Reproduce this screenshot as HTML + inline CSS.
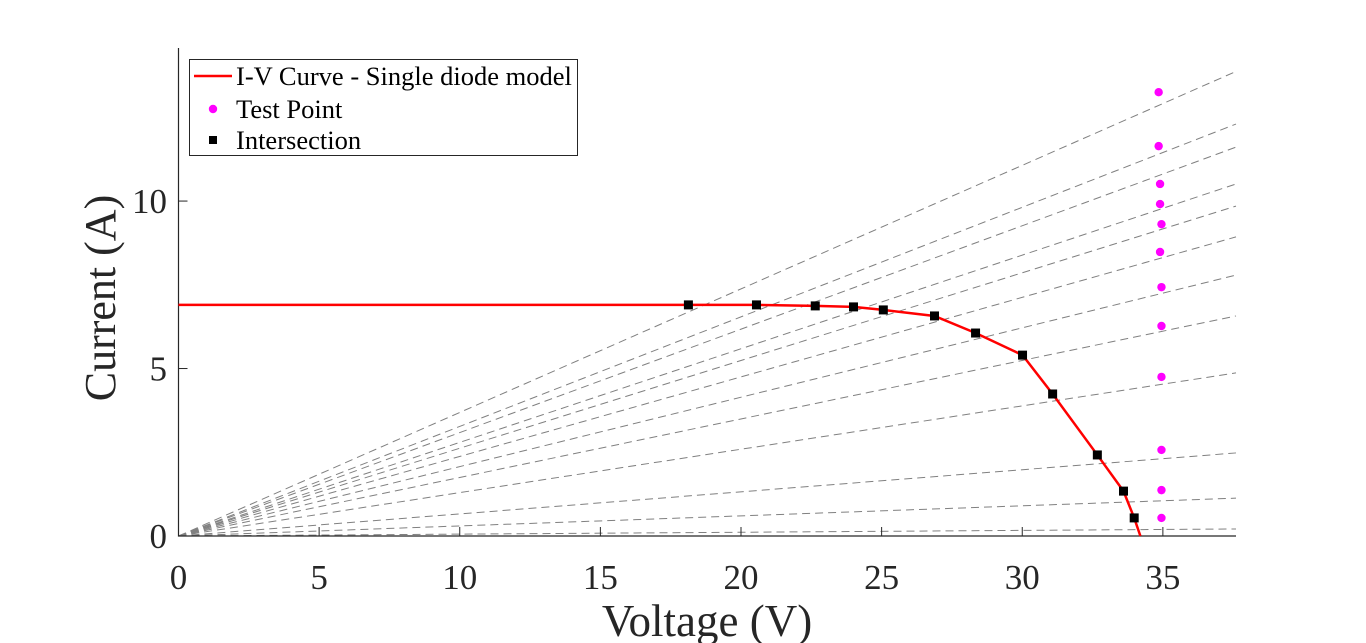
<!DOCTYPE html>
<html><head><meta charset="utf-8"><style>
html,body{margin:0;padding:0;background:#fff;}
svg{display:block;font-family:"Liberation Serif",serif;}
</style></head><body>
<svg id="chart" width="1366" height="643" viewBox="0 0 1366 643">
<g id="plot"></g>
</svg>
<script>
const xTicks=[0,5,10,15,20,25,30,35];
const yTicks=[0,5,10];
const loadLineEndCurrents=[13.87,12.30,11.61,10.51,9.85,8.93,7.79,6.57,4.87,2.48,1.13,0.21];
const interV=[18.13,20.55,22.64,24.0,25.06,26.88,28.34,30.01,31.08,32.67,33.60,33.98];
const interI=[6.90,6.90,6.87,6.84,6.75,6.57,6.06,5.40,4.24,2.42,1.34,0.54];
const curveV=[0,18.13,20.55,22.64,24.0,25.06,26.88,28.34,30.01,31.08,32.67,33.60,33.98,34.2];
const curveI=[6.9,6.90,6.90,6.87,6.84,6.75,6.57,6.06,5.40,4.24,2.42,1.34,0.54,0];
const testV=[34.85,34.85,34.9,34.9,34.95,34.9,34.95,34.95,34.95,34.95,34.95,34.95];
const testI=[13.25,11.64,10.51,9.91,9.31,8.48,7.43,6.27,4.75,2.57,1.37,0.54];

const NS="http://www.w3.org/2000/svg";
const X0=178.5,X1=1236,Y0=536,Y1=48,xMax=37.6,yMax=14.57;
const sx=v=>X0+v*(X1-X0)/xMax;
const sy=i=>Y0-i*(Y0-Y1)/yMax;
const g=document.getElementById('plot');
function mk(tag,attrs,parent){const e=document.createElementNS(NS,tag);for(const k in attrs)e.setAttribute(k,attrs[k]);(parent||g).appendChild(e);return e;}

loadLineEndCurrents.forEach((c,k)=>{
  const l=mk('line',{x1:sx(0),y1:sy(0),x2:sx(xMax),y2:sy(c),stroke:'#808080','stroke-width':1,'stroke-dasharray':'8,5'});
  
  
});
const ax=mk('path',{d:`M${X0},${Y1}V${Y0}H${X1}`,stroke:'#262626','stroke-width':1.2,fill:'none'});


xTicks.forEach(t=>{
  mk('line',{x1:sx(t),x2:sx(t),y1:Y0,y2:Y0-9,stroke:'#262626','stroke-width':1});
  const tx=mk('text',{x:sx(t),y:589,'text-anchor':'middle','font-size':35,fill:'#262626'});
  tx.textContent=t;
  
  
});
yTicks.forEach(t=>{
  mk('line',{x1:X0,x2:X0+9,y1:sy(t),y2:sy(t),stroke:'#262626','stroke-width':1});
  const tx=mk('text',{x:167,y:sy(t)+12,'text-anchor':'end','font-size':35,fill:'#262626'});
  tx.textContent=t;
  
  
});
const cur=mk('polyline',{points:curveV.map((v,k)=>sx(v)+','+sy(curveI[k])).join(' '),stroke:'#ff0000','stroke-width':2.5,fill:'none'});


interV.forEach((v,k)=>{
  const r=mk('rect',{x:sx(v)-4.5,y:sy(interI[k])-4.5,width:9,height:9,fill:'#000'});
  
  
});
testV.forEach((v,k)=>{
  const c=mk('circle',{cx:sx(v),cy:sy(testI[k]),r:4.2,fill:'#ff00ff'});
  
  
});
const xt=mk('text',{x:707,y:636,'text-anchor':'middle','font-size':45,fill:'#262626'});
xt.textContent='Voltage (V)';


const yt=mk('text',{x:0,y:0,'text-anchor':'middle','font-size':44,fill:'#262626',transform:'translate(115,298) rotate(-90)'});
yt.textContent='Current (A)';


const lg=mk('g',{});


mk('rect',{x:189.5,y:59.5,width:388,height:96,fill:'#fff',stroke:'#262626','stroke-width':1},lg);
mk('line',{x1:194,x2:232,y1:76,y2:76,stroke:'#ff0000','stroke-width':2.5},lg);
mk('circle',{cx:213,cy:109,r:4.2,fill:'#ff00ff'},lg);
mk('rect',{x:209,y:136,width:8,height:8,fill:'#000'},lg);
[['I-V Curve - Single diode model',85],['Test Point',118],['Intersection',149]].forEach(([s,y])=>{
  const t=mk('text',{x:236,y:y,'font-size':26.5,fill:'#000'},lg);
  t.textContent=s;
  
  
});
</script>
</body></html>
